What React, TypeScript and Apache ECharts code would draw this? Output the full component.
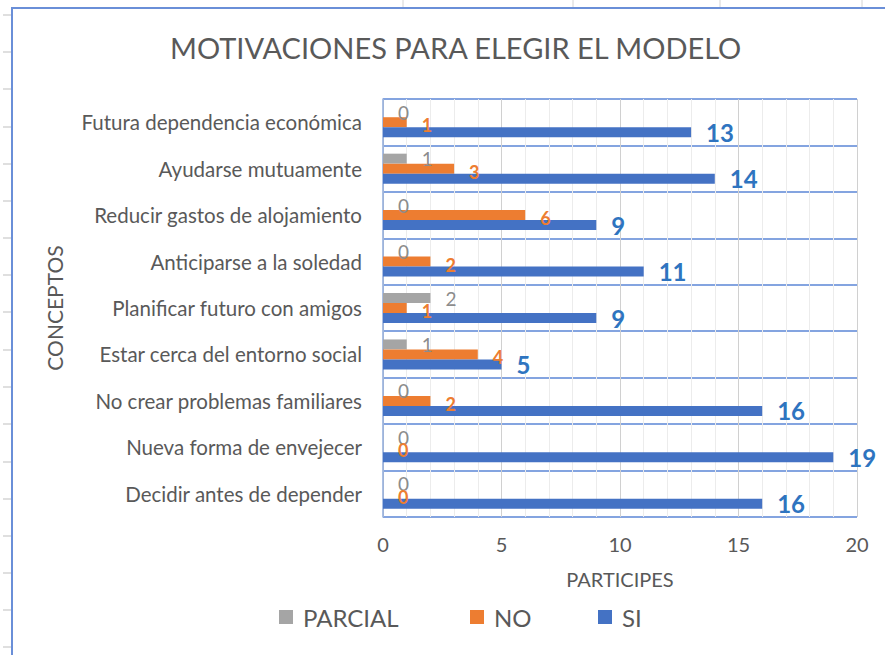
import React, { useEffect, useRef } from "react";
import * as echarts from "echarts";

const categories = [
  "Futura dependencia económica",
  "Ayudarse mutuamente",
  "Reducir gastos de alojamiento",
  "Anticiparse a la soledad",
  "Planificar futuro con amigos",
  "Estar cerca del entorno social",
  "No crear problemas familiares",
  "Nueva forma de envejecer",
  "Decidir antes de depender",
];
const parcialValues = [0, 1, 0, 0, 2, 1, 0, 0, 0];
const noValues = [1, 3, 6, 2, 1, 4, 2, 0, 0];
const siValues = [13, 14, 9, 11, 9, 5, 16, 19, 16];
const seriesNames = ["PARCIAL", "NO", "SI"];

// decorative spreadsheet background (outside the chart frame)
const sheetColumnLines = [403, 573, 720, 862];
const sheetRowLines = [15, 52, 89, 127, 164, 201, 238, 275, 312, 350, 387, 424, 462, 499, 536, 573, 610, 647];

const FONT = "Lato, 'Open Sans', 'Noto Sans', sans-serif";
const TEXT = "#595959";

export default function App() {
  const ref = useRef<HTMLDivElement>(null);
  useEffect(() => {
    const chart = echarts.init(ref.current!, null, { renderer: "svg" });
    const graphics: any[] = [];
    sheetColumnLines.forEach((x) =>
      graphics.push({ type: "line", shape: { x1: x, y1: 0, x2: x, y2: 8 }, style: { stroke: "#d4d4d4", lineWidth: 1 }, silent: true })
    );
    sheetRowLines.forEach((y) =>
      graphics.push({ type: "line", shape: { x1: 3, y1: y, x2: 11, y2: y }, style: { stroke: "#d4d4d4", lineWidth: 1.5 }, silent: true })
    );
    graphics.push({ type: "polyline", shape: { points: [[12, 655], [12, 8], [885, 8]] }, style: { stroke: "#6a8fd8", lineWidth: 2, fill: null }, silent: true });

    const legendCommon = {
      top: 605,
      padding: 0,
      itemWidth: 14,
      itemHeight: 14,
      icon: "rect",
      itemGap: 0,
      textStyle: { fontFamily: FONT, fontSize: 24, color: TEXT, padding: [0, 0, 0, 5] },
    };

    chart.setOption({
      animation: false,
      backgroundColor: "#ffffff",
      textStyle: { fontFamily: FONT },
      title: {
        text: "MOTIVACIONES PARA ELEGIR EL MODELO",
        left: 165,
        top: 28,
        textStyle: { fontFamily: FONT, fontSize: 29, fontWeight: "normal", color: TEXT },
      },
      legend: [
        { ...legendCommon, left: 279, data: [seriesNames[0]] },
        { ...legendCommon, left: 470, data: [seriesNames[1]] },
        { ...legendCommon, left: 598, data: [seriesNames[2]] },
      ],
      grid: { left: 383, right: 28, top: 99, bottom: 138, containLabel: false },
      xAxis: {
        type: "value",
        min: 0,
        max: 20,
        interval: 5,
        name: "PARTICIPES",
        nameLocation: "middle",
        nameGap: 52,
        nameTextStyle: { fontFamily: FONT, fontSize: 20, color: TEXT },
        axisLine: { show: false },
        axisTick: { show: false },
        axisLabel: { fontFamily: FONT, fontSize: 20, color: TEXT, margin: 17 },
        splitLine: { show: true, lineStyle: { color: "#d0d0d0", width: 1 } },
        minorTick: { show: false, splitNumber: 5 },
        minorSplitLine: { show: true, lineStyle: { color: "#ececec", width: 1 } },
      },
      yAxis: {
        type: "category",
        inverse: true,
        data: categories,
        name: "CONCEPTOS",
        nameLocation: "middle",
        nameRotate: 90,
        nameGap: 318,
        nameTextStyle: { fontFamily: FONT, fontSize: 21, color: TEXT },
        axisLine: { show: true, lineStyle: { color: "#8eaadb", width: 1.5 } },
        axisTick: { show: false },
        axisLabel: { fontFamily: FONT, fontSize: 20.5, color: TEXT, margin: 21, padding: [0, 0, 3, 0] },
        splitLine: { show: true, lineStyle: { color: "#5b86d6", width: 1.5 } },
      },
      graphic: graphics,
      series: [
        {
          name: seriesNames[0],
          type: "bar",
          data: parcialValues,
          barWidth: 10,
          barGap: "0%",
          itemStyle: { color: "#a5a5a5" },
          label: { show: true, position: "right", distance: 15, fontFamily: FONT, fontSize: 19, color: "#8c8c8c" },
        },
        {
          name: seriesNames[1],
          type: "bar",
          data: noValues,
          barWidth: 10,
          barGap: "0%",
          itemStyle: { color: "#ed7d31" },
          label: { show: true, position: "right", distance: 15, offset: [0, 3], fontFamily: FONT, fontSize: 18, fontWeight: "bold", color: "#ed7d31" },
        },
        {
          name: seriesNames[2],
          type: "bar",
          data: siValues,
          barWidth: 10,
          barGap: "0%",
          itemStyle: { color: "#4472c4" },
          label: { show: true, position: "right", distance: 15, fontFamily: FONT, fontSize: 24, fontWeight: "bold", color: "#2e74c0" },
        },
      ],
    });
    return () => chart.dispose();
  }, []);
  return (
    <div
      ref={ref}
      style={{ position: "fixed", left: 0, top: 0, width: 885, height: 655, background: "#fff" }}
    />
  );
}
